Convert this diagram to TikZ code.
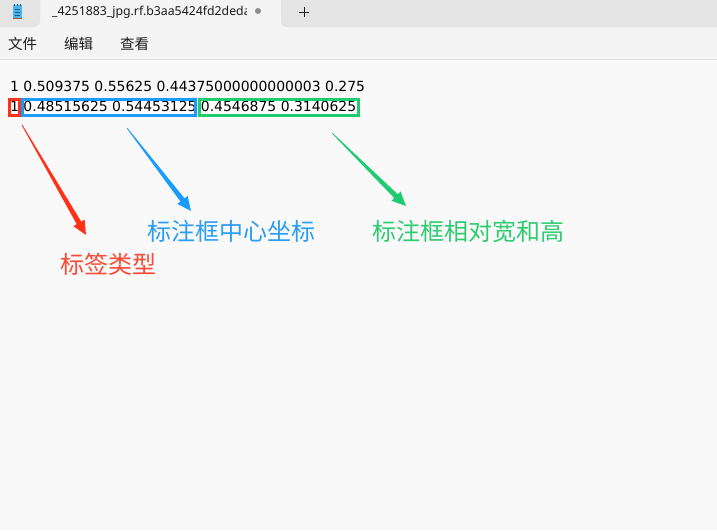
\documentclass[tikz,border=0pt]{standalone}
\usepackage{fontspec}
\setmainfont{DejaVu Sans}
\newfontfamily\cjk{Noto Sans CJK SC}
\newfontfamily\uifont{Noto Sans}
\usetikzlibrary{calc}
\definecolor{bodybg}{HTML}{F9F9F9}
\definecolor{menubg}{HTML}{F4F4F4}
\definecolor{tabbar}{HTML}{E4E4E4}
\definecolor{sepc}{HTML}{E0E0E0}
\definecolor{uitext}{HTML}{1B1B1B}
\definecolor{dotc}{HTML}{8C8C8C}
\definecolor{redc}{HTML}{FF3218}
\definecolor{bluec}{HTML}{1C9BFF}
\definecolor{greenc}{HTML}{1ECB6E}
\definecolor{redt}{HTML}{FA4A35}
\definecolor{bluet}{HTML}{2A9DF4}
\definecolor{greent}{HTML}{2DCC70}
\definecolor{iconblue}{HTML}{4DB4EA}
\definecolor{icondark}{HTML}{1E5E8C}
\definecolor{iconred}{HTML}{B5532A}
\newcommand\taperarrow[3]{%
  \coordinate (#1h) at ($(#2)!14pt!(#1)$);
  \fill[#3] ($(#1)!0.4pt!90:(#2)$) -- ($(#1h)!2.6pt!90:(#2)$) -- ($(#1h)!6.5pt!90:(#2)$)
    -- (#2) -- ($(#1h)!6.5pt!-90:(#2)$) -- ($(#1h)!2.6pt!-90:(#2)$) -- ($(#1)!0.4pt!-90:(#2)$) -- cycle;
}
\begin{document}
\begin{tikzpicture}[x=1pt,y=-1pt,
  lbl/.style={inner sep=0pt,font=\cjk\fontsize{24}{28}\selectfont},
  menu/.style={inner sep=0pt,anchor=west,text=uitext,font=\cjk\fontsize{14.5}{16}\selectfont},
  num/.style={inner sep=0pt,anchor=base west,text=black,font=\fontsize{13.95}{16}\selectfont},
  boxbg/.style={inner sep=0pt,fill=white,minimum height=16pt},
  frame/.style={line width=3pt}]
\useasboundingbox (0,0) rectangle (717,530);
% window background
\fill[bodybg] (0,0) rectangle (717,530);
\fill[menubg] (0,0) rectangle (717,59);
\fill[tabbar, rounded corners=6pt] (-10,-10) rectangle (40,27);
\fill[tabbar, rounded corners=6pt] (281,-10) rectangle (727,27);
\draw[sepc, line width=1pt] (0,59.5) -- (717,59.5);
% notepad icon
\fill[iconblue] (12.5,5) rectangle (21.5,18);
\foreach \yy in {9,12,15} \draw[icondark, line width=0.8pt] (14.5,\yy) -- (19.5,\yy);
\foreach \xx in {14,17,20} \draw[icondark, line width=0.8pt] (\xx,3.5) -- (\xx,6);
\draw[iconred, line width=1.3pt] (12.5,18.6) -- (21.5,18.6);
% tab title
\begin{scope}
\clip (48,0) rectangle (246,27);
\node[inner sep=0pt, anchor=west, text=uitext, font=\uifont\fontsize{12.3}{14}\selectfont] (tabtitle) at (52,12.5) {\_4251883\_jpg.rf.b3aa5424fd2dedac};
\end{scope}
\fill[dotc] (258,11) circle (3);
\draw[uitext, line width=1pt] (299,12) -- (309,12) (304,7) -- (304,17);
% menu
\node[menu] (mfile) at (8,44) {文件};
\node[menu] (medit) at (64,44) {编辑};
\node[menu] (mview) at (120,44) {查看};
% box backgrounds
\node[boxbg, minimum width=10pt] (rbox) at (14.5,107.5) {};
\node[boxbg, minimum width=173pt] (bbox) at (109,107.5) {};
\node[boxbg, minimum width=159pt] (gbox) at (279,107.5) {};
% text lines
\node[num] (line1) at (10,91) {1 0.509375 0.55625 0.44375000000000003 0.275};
\node[num] (line2) at (10,111) {1 0.48515625 0.54453125 0.4546875 0.3140625};
% frames
\draw[redc, frame] (rbox.north west) rectangle (rbox.south east);
\draw[bluec, frame] (bbox.north west) rectangle (bbox.south east);
\draw[greenc, frame] (gbox.north west) rectangle (gbox.south east);
% labels
\node[lbl, text=redt] (lred) at (108,264) {标签类型};
\node[lbl, text=bluet] (lblue) at (231,231) {标注框中心坐标};
\node[lbl, text=greent] (lgreen) at (468,231) {标注框相对宽和高};
% arrows
\coordinate (ra) at (22,125);
\coordinate (rb) at (86,235);
\coordinate (ba) at (127,128);
\coordinate (bb) at (191,211);
\coordinate (ga) at (332,133);
\coordinate (gb) at (406,206);
\taperarrow{ra}{rb}{redc}
\taperarrow{ba}{bb}{bluec}
\taperarrow{ga}{gb}{greenc}
\end{tikzpicture}
\end{document}
